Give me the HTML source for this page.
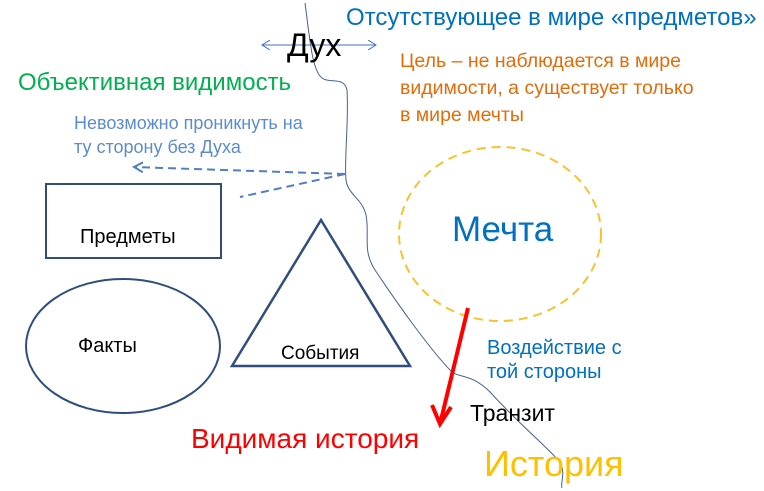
<!DOCTYPE html>
<html><head><meta charset="utf-8"><style>
body{margin:0;width:764px;height:491px;background:#fff;overflow:hidden;position:relative;font-family:"Liberation Sans","Noto Sans CJK SC",sans-serif}
.t{position:absolute;white-space:nowrap;line-height:1}
</style></head><body>
<svg width="764" height="491" style="position:absolute;left:0;top:0">
<defs>
<marker id="a" markerWidth="10" markerHeight="10" refX="8" refY="5" orient="auto" markerUnits="userSpaceOnUse"><path d="M0,0 L8,5 L0,10" fill="none" stroke="#4472c4" stroke-width="1"/></marker>
<marker id="b" markerWidth="12" markerHeight="12" refX="9" refY="6" orient="auto" markerUnits="userSpaceOnUse"><path d="M0,1 L9,6 L0,11" fill="none" stroke="#4f7fc4" stroke-width="2"/></marker>
</defs>
<path d="M305,3 C310,40 312,70 322,78 C330,84 344,76 347,90 C349,120 344,160 346,180 C348,195 362,198 366,215 C370,235 362,250 375,270 C395,300 430,350 452,372 C460,378 472,374 490,392 C520,425 545,445 560,462 C566,472 560,484 562,488" fill="none" stroke="#44628f" stroke-width="1"/>
<line x1="318" y1="45" x2="262" y2="45" stroke="#4472c4" marker-end="url(#a)"/>
<line x1="318" y1="45" x2="376" y2="45" stroke="#4472c4" marker-end="url(#a)"/>
<line x1="345" y1="174" x2="134" y2="167" stroke="#4f7fc4" stroke-width="2" stroke-dasharray="8,5" marker-end="url(#b)"/>
<line x1="345" y1="174" x2="240" y2="197" stroke="#4f7fc4" stroke-width="2" stroke-dasharray="8,5"/>
<rect x="46" y="184" width="175" height="74" fill="none" stroke="#2f4e7d" stroke-width="2"/>
<ellipse cx="123" cy="346" rx="97" ry="67" fill="none" stroke="#2f4e7d" stroke-width="2"/>
<polygon points="321,220 232,366 410,366" fill="none" stroke="#2f4e7d" stroke-width="2.5"/>
<ellipse cx="500" cy="234" rx="101" ry="87" fill="none" stroke="#fbc02d" stroke-width="2" stroke-dasharray="9,6"/>
<line x1="468" y1="308" x2="441" y2="420" stroke="#f00" stroke-width="4"/>
<path d="M432,405 L440,424 L451,407" fill="none" stroke="#f00" stroke-width="4"/>
</svg>
<div class="t" style="left:346px;top:6px;font-size:24px;color:#0070c0">Отсутствующее в мире «предметов»</div>
<div class="t" style="left:287px;top:29px;font-size:32px;color:#000">Дух</div>
<div class="t" style="left:400px;top:48px;font-size:19.5px;color:#e36c0a;line-height:27px">Цель – не наблюдается в мире<br>видимости, а существует только<br>в мире мечты</div>
<div class="t" style="left:18px;top:71px;font-size:24px;color:#00b050">Объективная видимость</div>
<div class="t" style="left:74px;top:111px;font-size:18px;color:#5b8bd0;line-height:24px">Невозможно проникнуть на<br>ту сторону без Духа</div>
<div class="t" style="left:80px;top:227px;font-size:20px;color:#000">Предметы</div>
<div class="t" style="left:78px;top:336px;font-size:20px;color:#000">Факты</div>
<div class="t" style="left:281px;top:344px;font-size:19px;color:#000">События</div>
<div class="t" style="left:452px;top:212px;font-size:35px;color:#0070c0">Мечта</div>
<div class="t" style="left:487px;top:336px;font-size:20px;color:#0070c0;line-height:24px">Воздействие с<br>той стороны</div>
<div class="t" style="left:470px;top:402px;font-size:23px;color:#000">Транзит</div>
<div class="t" style="left:191px;top:425px;font-size:28px;color:#f00">Видимая история</div>
<div class="t" style="left:484px;top:446px;font-size:36px;color:#ffc000">История</div>
</body></html>
